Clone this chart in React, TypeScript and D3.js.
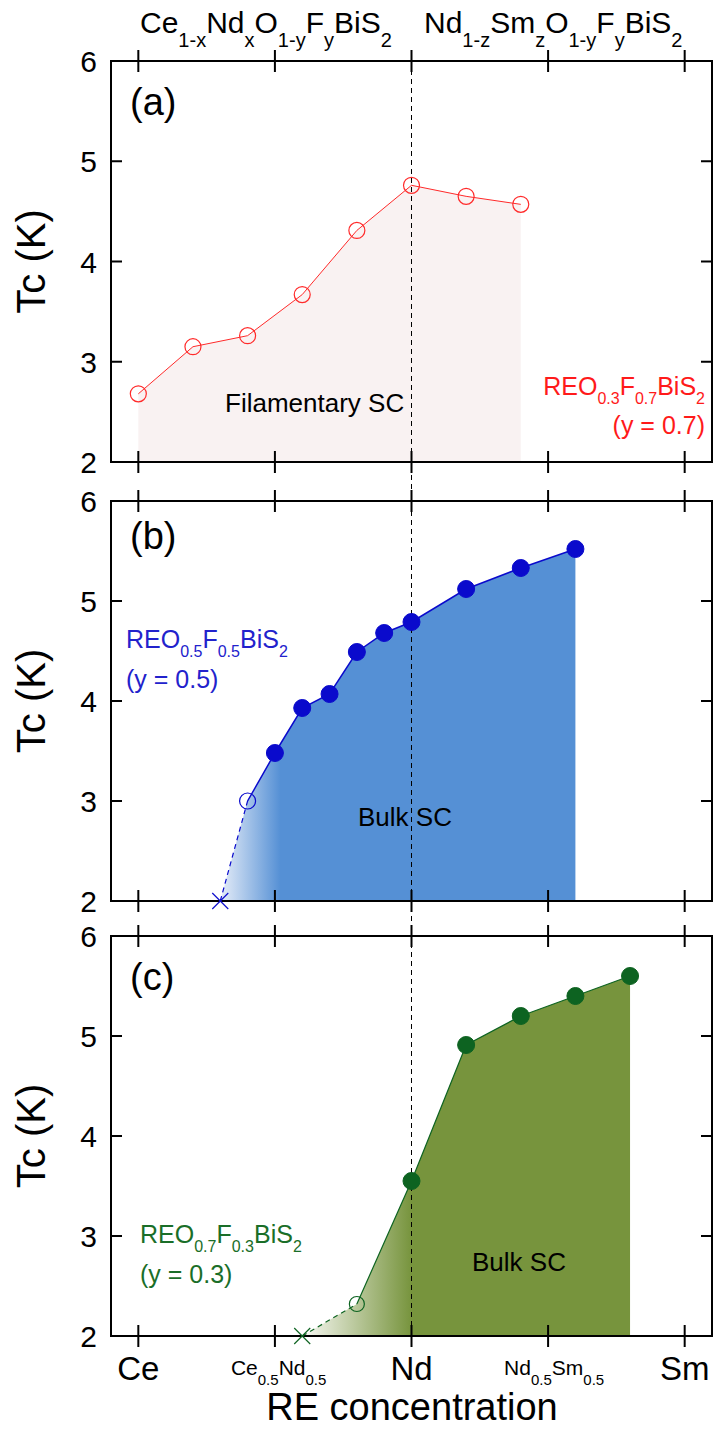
import React from 'react';
import * as d3 from 'd3';

// RE concentration: Ce = 0, Ce0.5Nd0.5 = 0.5, Nd = 1, Nd0.5Sm0.5 = 1.5, Sm = 2
const xTicks = [0, 0.5, 1, 1.5, 2];
const yTicks = [2, 3, 4, 5, 6];

// (a) y = 0.7, filamentary
const concA = [0, 0.2, 0.4, 0.6, 0.8, 1.0, 1.2, 1.4];
const tcA = [2.68, 3.15, 3.26, 3.67, 4.31, 4.76, 4.65, 4.57];

// (b) y = 0.5, bulk
const crossB = { c: 0.3, tc: 2.0 };
const openB = { c: 0.4, tc: 3.0 };
const concB = [0.5, 0.6, 0.7, 0.8, 0.9, 1.0, 1.2, 1.4, 1.6];
const tcB = [3.48, 3.93, 4.07, 4.49, 4.68, 4.79, 5.12, 5.33, 5.52];

// (c) y = 0.3, bulk
const crossC = { c: 0.6, tc: 2.0 };
const openC = { c: 0.8, tc: 2.32 };
const concC = [1.0, 1.2, 1.4, 1.6, 1.8];
const tcC = [3.55, 4.91, 5.2, 5.4, 5.6];

type Part = [string, boolean];

const FONT = '"Liberation Sans", Arial, sans-serif';

const x = d3.scaleLinear().domain([-0.1, 2.1]).range([111, 712]);
const left = 111;
const right = 712;

const Formula = ({ px, py, parts, size, sub, drop, fill = '#000', anchor = 'start' }:
  { px: number; py: number; parts: Part[]; size: number; sub: number; drop: number; fill?: string; anchor?: string }) => {
  let low = false;
  return (
    <text x={px} y={py} fill={fill} fontFamily={FONT} textAnchor={anchor}>
      {parts.map(([t, isSub], i) => {
        let dy = 0;
        if (isSub && !low) dy = drop;
        if (!isSub && low) dy = -drop;
        low = isSub;
        return (
          <tspan key={i} dy={dy} fontSize={isSub ? sub : size}>{t}</tspan>
        );
      })}
    </text>
  );
};

const Frame = ({ top, bottom }: { top: number; bottom: number }) => {
  const y = d3.scaleLinear().domain([2, 6]).range([bottom, top]);
  return (
    <g>
      <rect x={left} y={top} width={right - left} height={bottom - top} fill="none" stroke="#000" strokeWidth={2} />
      {xTicks.map(t => (
        <g key={t}>
          <line x1={x(t)} x2={x(t)} y1={top - 11} y2={top + 11} stroke="#000" strokeWidth={2} />
          <line x1={x(t)} x2={x(t)} y1={bottom - 11} y2={bottom + 11} stroke="#000" strokeWidth={2} />
        </g>
      ))}
      {yTicks.slice(1, -1).map(t => (
        <g key={t}>
          <line x1={left} x2={left + 11} y1={y(t)} y2={y(t)} stroke="#000" strokeWidth={2} />
          <line x1={right - 11} x2={right} y1={y(t)} y2={y(t)} stroke="#000" strokeWidth={2} />
        </g>
      ))}
      {yTicks.map(t => (
        <text key={t} x={97} y={y(t) + 11} textAnchor="end" fontSize={30} fontFamily={FONT}>{t}</text>
      ))}
      <text transform={`translate(45,${(top + bottom) / 2}) rotate(-90)`} textAnchor="middle" fontSize={40} fontFamily={FONT}>Tc (K)</text>
    </g>
  );
};

const App = () => {
  const yA = d3.scaleLinear().domain([2, 6]).range([462, 61]);
  const yB = d3.scaleLinear().domain([2, 6]).range([901, 501]);
  const yC = d3.scaleLinear().domain([2, 6]).range([1336, 936]);

  const ptsA = concA.map((c, i) => ({ c, tc: tcA[i] }));
  const ptsB = concB.map((c, i) => ({ c, tc: tcB[i] }));
  const ptsC = concC.map((c, i) => ({ c, tc: tcC[i] }));

  const mk = (ys: d3.ScaleLinear<number, number>) => ({
    area: d3.area<{ c: number; tc: number }>().x(d => x(d.c)).y0(ys(2)).y1(d => ys(d.tc)),
    line: d3.line<{ c: number; tc: number }>().x(d => x(d.c)).y(d => ys(d.tc)),
  });
  const gA = mk(yA);
  const gB = mk(yB);
  const gC = mk(yC);

  const red = '#ff2a2a';
  const blue = '#0a0acc';
  const green = '#0d6321';

  const cross = (cx: number, cy: number, col: string) => (
    <g stroke={col} strokeWidth={1.2}>
      <line x1={cx - 8} x2={cx + 8} y1={cy - 8} y2={cy + 8} />
      <line x1={cx - 8} x2={cx + 8} y1={cy + 8} y2={cy - 8} />
    </g>
  );

  const sub = (s: string): Part => [s, true];
  const reg = (s: string): Part => [s, false];

  return (
    <div style={{ position: 'absolute', left: 0, top: 0 }}>
      <svg width={719} height={1432} style={{ display: 'block', background: '#fff' }}>
        <defs>
          <linearGradient id="gradB" gradientUnits="userSpaceOnUse" x1={x(0.3)} x2={x(0.52)} y1={0} y2={0}>
            <stop offset="0%" stopColor="#e6edf8" />
            <stop offset="100%" stopColor="#5590d5" />
          </linearGradient>
          <linearGradient id="gradC" gradientUnits="userSpaceOnUse" x1={x(0.62)} x2={x(1.0)} y1={0} y2={0}>
            <stop offset="0%" stopColor="#f2f4ec" />
            <stop offset="100%" stopColor="#77943d" />
          </linearGradient>
        </defs>

        {/* fills */}
        <path d={gA.area(ptsA) || ''} fill="#f9f2f2" />
        <path d={gB.area([crossB, openB, ...ptsB]) || ''} fill="url(#gradB)" />
        <path d={gC.area([crossC, openC, ...ptsC]) || ''} fill="url(#gradC)" />

        <line x1={x(1)} x2={x(1)} y1={61} y2={1336} stroke="#000" strokeWidth={1} strokeDasharray="5,4" />

        <Frame top={61} bottom={462} />
        <Frame top={501} bottom={901} />
        <Frame top={936} bottom={1336} />

        {/* (a) */}
        <path d={gA.line(ptsA) || ''} fill="none" stroke={red} strokeWidth={1} />
        {ptsA.map((d, i) => (
          <circle key={i} cx={x(d.c)} cy={yA(d.tc)} r={8} fill="none" stroke={red} strokeWidth={1.2} />
        ))}

        {/* (b) */}
        <path d={gB.line([crossB, openB]) || ''} fill="none" stroke={blue} strokeWidth={1.2} strokeDasharray="5,4" />
        <path d={gB.line([openB, ...ptsB]) || ''} fill="none" stroke={blue} strokeWidth={1.5} />
        {cross(x(crossB.c), yB(crossB.tc), blue)}
        <circle cx={x(openB.c)} cy={yB(openB.tc)} r={8} fill="none" stroke={blue} strokeWidth={1.2} />
        {ptsB.map((d, i) => (
          <circle key={i} cx={x(d.c)} cy={yB(d.tc)} r={8.5} fill={blue} stroke={blue} strokeWidth={1} />
        ))}

        {/* (c) */}
        <path d={gC.line([crossC, openC]) || ''} fill="none" stroke={green} strokeWidth={1.2} strokeDasharray="5,4" />
        <path d={gC.line([openC, ...ptsC]) || ''} fill="none" stroke={green} strokeWidth={1.2} />
        {cross(x(crossC.c), yC(crossC.tc), green)}
        <circle cx={x(openC.c)} cy={yC(openC.tc)} r={7.5} fill="none" stroke={green} strokeWidth={1.2} />
        {ptsC.map((d, i) => (
          <circle key={i} cx={x(d.c)} cy={yC(d.tc)} r={8.5} fill={green} stroke={green} strokeWidth={1} />
        ))}

        {/* panel labels */}
        <text x={130} y={115} fontSize={38} fontFamily={FONT}>(a)</text>
        <text x={130} y={549} fontSize={38} fontFamily={FONT}>(b)</text>
        <text x={130} y={990} fontSize={38} fontFamily={FONT}>(c)</text>

        <text x={225} y={412} fontSize={26} fontFamily={FONT}>Filamentary SC</text>
        <text x={358} y={826} fontSize={26} fontFamily={FONT}>Bulk SC</text>
        <text x={472} y={1271} fontSize={26} fontFamily={FONT}>Bulk SC</text>

        <Formula px={705} py={395} anchor="end" fill="#ff1a1a" size={25} sub={16} drop={9}
          parts={[reg('REO'), sub('0.3'), reg('F'), sub('0.7'), reg('BiS'), sub('2')]} />
        <text x={705} y={434} textAnchor="end" fontSize={25} fill="#ff1a1a" fontFamily={FONT}>(y = 0.7)</text>

        <Formula px={126} py={648} fill="#2222cc" size={25} sub={16} drop={9}
          parts={[reg('REO'), sub('0.5'), reg('F'), sub('0.5'), reg('BiS'), sub('2')]} />
        <text x={126} y={688} fontSize={25} fill="#2222cc" fontFamily={FONT}>(y = 0.5)</text>

        <Formula px={140} py={1243} fill="#1a6e28" size={25} sub={16} drop={9}
          parts={[reg('REO'), sub('0.7'), reg('F'), sub('0.3'), reg('BiS'), sub('2')]} />
        <text x={140} y={1283} fontSize={25} fill="#1a6e28" fontFamily={FONT}>(y = 0.3)</text>

        {/* top formulas */}
        <Formula px={140} py={33} size={30} sub={20} drop={14}
          parts={[reg('Ce'), sub('1-x'), reg('Nd'), sub('x'), reg('O'), sub('1-y'), reg('F'), sub('y'), reg('BiS'), sub('2')]} />
        <Formula px={424} py={33} size={30} sub={20} drop={14}
          parts={[reg('Nd'), sub('1-z'), reg('Sm'), sub('z'), reg('O'), sub('1-y'), reg('F'), sub('y'), reg('BiS'), sub('2')]} />

        {/* bottom category labels */}
        <text x={x(0)} y={1380} textAnchor="middle" fontSize={33} fontFamily={FONT}>Ce</text>
        <Formula px={x(0.5) - 44} py={1375} size={21} sub={15} drop={10}
          parts={[reg('Ce'), sub('0.5'), reg('Nd'), sub('0.5')]} />
        <text x={x(1)} y={1380} textAnchor="middle" fontSize={33} fontFamily={FONT}>Nd</text>
        <Formula px={x(1.5) - 44} py={1375} size={21} sub={15} drop={10}
          parts={[reg('Nd'), sub('0.5'), reg('Sm'), sub('0.5')]} />
        <text x={x(2)} y={1380} textAnchor="middle" fontSize={33} fontFamily={FONT}>Sm</text>

        <text x={412} y={1420} textAnchor="middle" fontSize={38} fontFamily={FONT}>RE concentration</text>
      </svg>
    </div>
  );
};

export default App;
